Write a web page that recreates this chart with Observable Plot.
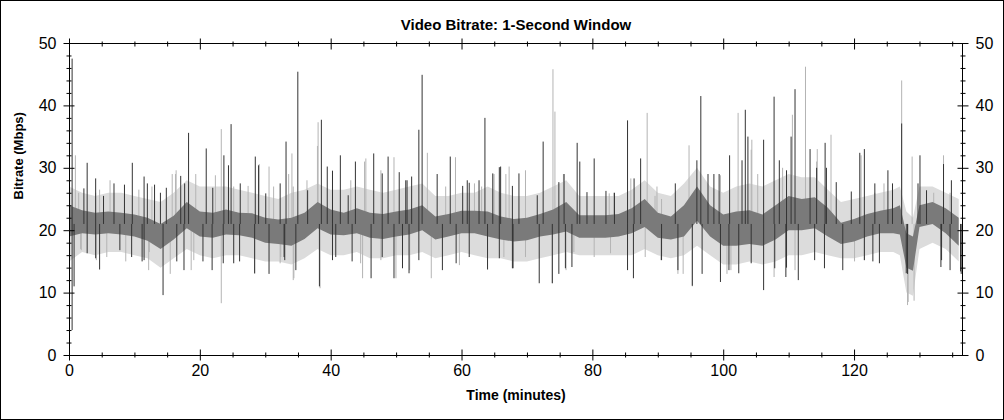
<!DOCTYPE html>
<html><head><meta charset="utf-8">
<script src="https://cdn.jsdelivr.net/npm/d3@7"></script>
<script src="https://cdn.jsdelivr.net/npm/@observablehq/plot@0.6"></script>
<style>
html,body{margin:0;padding:0;background:#fff;}
#wrap{position:relative;width:1004px;height:420px;overflow:hidden;background:#fff;}
#wrap svg{position:absolute;left:0;top:0;}
#wrap::after{content:"";position:absolute;left:0;top:0;right:0;bottom:0;border:1px solid #000;pointer-events:none;}
</style></head><body><div id="wrap"></div>
<script>
// Time grid (minutes) for the dense band of the trace
const bandT = [0,2,4,6,8,10,12,14,16,18,20,22,24,26,28,30,32,34,36,38,40,42,44,46,48,50,52,54,56,58,60,62,64,66,68,70,72,74,76,78,80,82,84,86,88,90,92,94,96,98,100,102,104,106,108,110,112,114,116,118,120,122,124,126,127,128,129,130,132,134,136];
// Dark core of the trace (Mbps): low and high edge
const coreLo = [19,19.5,19.3,19.5,19.3,19,18.3,17,18.5,20.3, 19,18.8,19.3,19.2,18.8,18,17.8,17.5,18.6,20.3, 19.3,19.2,19.5,18.8,18.6,19,19.3,20,18.5,19, 19.5,19.5,19,18.5,18.2,18.4,19,19.3,19.8,18.8, 18.8,18.8,19,19.5,20.5,18.8,18.5,19,21.5,19, 17.5,17.5,17.8,17.5,18.5,20,20,20.3,19,17.8, 18.2,19,19.5,19.5, 19.3,14,13.5,20.5,21,19.5,17.5];
const coreHi = [24,23.2,22.8,23,22.8,22.5,22,21,22.3,24.5, 23,22.8,23.3,22.8,22.7,22,21.7,22,22.8,24.5, 23.3,22.8,23.5,22.8,22.6,23,23.3,24,22.2,22.6, 23.1,23.1,23,22.2,21.8,22,22.6,23.3,24.5,22.4, 22.4,22.4,22.6,23.5,25,22.8,22.2,24,27,24, 22.5,23,23.2,22.5,24,25.5,25,25.3,23.6,21.2, 21.8,22.6,23.1,23.5, 24,19.5,19,24,24.5,23.5,22];
// Light outer fuzz of the trace (Mbps): low and high edge
const fuzzLo = [15,16.5,16,16.5,16.5,16,15.5,14,15.5,17, 16,15.5,16,16,15.5,15,15,14.5,15.5,17, 16,16,16.5,15.5,15.5,16,16,16.5,15.5,16, 16.5,16,15.5,15.5,15,15,15.5,16,16.5,16, 16,16,16,16,17,16,15.5,16,17.5,16, 14.5,14.5,15,14.5,15,16,16,16.5,16,15.5, 15.5,16,16.5,16.5, 16,10,9.5,17,18,17,15];
const fuzzHi = [27,26,25.5,26,26,25.5,25,24.5,26,28, 27,27,27,26.5,26,25.5,25,26,26.5,27.5, 26.5,26.5,27,26.5,26,26.5,27,27.5,25.5,25.5, 26,26,27,26,25.5,25.5,26,27,28,25.5, 25.5,25.5,25.5,26.5,28,26,25.5,27.5,30,27, 26,27,27.5,27,28,29,28.5,28.5,26.5,24.5, 25,25.5,26,26.5, 27,23,22,27,27,26,25];
// Dark peaks [minute, Mbps]
const darkSpikes = [[0.4,47.5],[2.2,26.7],[2.7,30.8],[5.2,25.5],[6.8,27.5],[9.6,30.8],[11.9,27.5],[13.9,26],[17.0,28.7],[17.6,27.5],[18.2,35.6],[20.9,33.1],[23.6,32],[24.7,37],[26.1,27.5],[28.4,31.8],[30.0,25.9],[33.1,34.2],[34.9,45.4],[38.5,37.7],[39.4,30.2],[41.4,32],[43.7,31],[46.5,32.3],[48.7,31.8],[51.6,28],[53.4,36.1],[53.9,44.9],[56.2,29],[58.2,31.8],[60.8,28],[63.5,38],[65.9,30.2],[72.4,34.2],[75.6,29],[77.6,34],[78.0,31],[80.2,31.5],[83.3,26],[85.3,37.6],[87.3,31.5],[92.6,27.5],[96.5,41.5],[98.5,29],[100.9,32],[103.3,39.3],[106.1,34.5],[107.7,41.4],[110.9,42.6],[113.2,33],[115.5,34],[119.5,26.2],[121.5,33],[123.1,27.5],[125.8,27.5],[127.2,37.1],[130.0,32],[133.6,30.6],
  [4.0,28.3],[8.4,27.3],[11.4,28.6],[13.0,27.3],[14.8,26.8],[21.9,26.8],[24.3,30.4],[28.9,30.4],[32.2,27.5],[36.4,26.4],[40.2,29.5],[42.6,25.6],[47.8,29.1],[50.4,29.3],[51.4,28],[52.3,28.6],[60.1,27.1],[61.1,27.6],[62.6,28],[64.7,29.1],[65.7,30.1],[67.7,27.1],[68.7,29.1],[71.5,25.6],[74.8,27.7],[79.1,26.1],[82.0,26.3],[86.3,28.3],[95.9,31.2],[97.6,29],[99.3,29],[102.8,31.2],[103.7,35],[108.5,31.2],[109.6,29.6],[110.3,35],[114.2,30],[115.7,30],[117.2,27.7],[120.8,32.4],[125.1,29.6],[129.7,27.5],[131.0,26.4],[134.8,28],
  [0.4,4],[0.7,11],[4.6,13.7],[11.1,15],[14.3,9.6],[17.5,13.6],[21.8,13.6],[25.1,14.7],[30.5,13],[32.8,15.7],[40.2,15.2],[43.2,15],[46.1,12.3],[51.9,13.1],[53.4,15.2],[63.9,13.7],[67.8,13.9],[71.8,11.5],[74.8,13],[76.8,14.1],[85.3,13.6],[86.2,12.3],[96.7,13],[99.5,11.7],[106.1,10.4],[109.5,12.5],[118.2,13.6],[122.8,15],[128.1,13],[133.2,14.1],[136.2,13.4],
  [2.7,16.3],[4.0,15.5],[7.7,16.8],[9.5,15.7],[11.4,15.2],[16.4,15],[20.4,15],[23.5,14.7],[26.0,15],[28.3,13.1],[32.9,15.2],[34.6,13.6],[38.2,11],[40.7,15.7],[47.8,15.7],[49.6,12.3],[50.9,13.9],[57.0,13.6],[59.1,14.7],[61.1,15.7],[65.7,15.5],[67.7,13.9],[73.8,11.5],[75.8,13.9],[90.5,15.2],[93.0,13.6],[95.2,11.1],[100.8,13.6],[102.3,13.1],[104.2,14.7],[107.8,13.9],[109.6,14],[111.4,12],[113.9,15.2],[115.4,13.9],[121.5,15.2],[123.8,14.7],[127.9,13.1],[133.3,15.2],[134.6,13.6],[136.3,13]];
// Light peaks [minute, Mbps]
const lightSpikes = [[0.9,32],[1.4,26],[4.0,26],[6.2,28],[10.6,26.5],[12.6,27],[15.7,29],[16.2,29],[19.3,29],[22.3,28.8],[23.2,36.2],[25.1,27],[29.0,30.6],[31.2,27],[33.5,29],[34.0,32.3],[36.3,28],[38.0,37.3],[40.2,29.6],[43.0,28],[45.3,31.5],[47.6,29.6],[49.6,31.7],[54.7,32.4],[59.0,31.7],[61.9,27.5],[64.9,29],[66.7,29],[67.2,30.2],[69.7,29.6],[73.9,45.8],[74.2,39],[82.5,25.9],[85.8,28.3],[88.3,38.8],[89.8,27],[94.7,33.6],[99.5,28.8],[102.2,38.8],[104.3,34.5],[109.0,30],[110.5,38.5],[112.5,46.2],[114.3,33],[116.4,35.3],[121.0,32],[124.5,27.5],[127.2,44],[128.8,31.8],[132.1,26],[134.6,26],
  [4.6,26.5],[16.3,29.6],[27.3,27.1],[30.5,30.2],[34.2,27],[37.9,33.5],[45.1,31],[57.5,27],[63.0,27],[75.5,29],[83.2,26],[89.5,25.5],[90.5,25],[104.2,32.9],[105.2,29],[114.2,31],[123.1,26],[133.6,32],
  [1.7,17],[4.1,15.2],[8.6,15],[12.1,13.6],[15.4,13],[18.6,13.6],[23.2,8.3],[28.3,13],[32.3,15.7],[34.3,12.3],[38.3,10.7],[44.5,14.7],[47.6,15.2],[49.9,12.3],[55.3,12.3],[59.6,14.4],[66.4,15.7],[73.8,11.5],[75.9,13.6],[82.7,16.3],[90.4,15.2],[93.0,13],[95.2,11],[100.5,13],[101.1,13.6],[107.7,12.5],[110.9,13.6],[120.0,15],[128.1,8],[129.1,8.7],
  [1.8,16.8],[5.7,15.7],[12.2,16.5],[19.0,15.2],[32.2,14.7],[34.2,12],[44.8,12.3],[52.0,13.6],[69.7,15.7],[77.1,16.5],[80.2,15.7],[88.0,15.7],[93.8,13],[121.5,15.2],[128.2,8.5]];
// Ticks
const yMajor = [0,10,20,30,40,50];
const yMinor = [2,4,6,8,12,14,16,18,22,24,26,28,32,34,36,38,42,44,46,48];
const xMajor = [0,20,40,60,80,100,120];
const xMinor = [5,10,15,25,30,35,45,50,55,65,70,75,85,90,95,105,110,115,125,130,135];
const titleText = "Video Bitrate: 1-Second Window";
const xLabel = "Time (minutes)";
const yLabel = "Bitrate (Mbps)";

const band = bandT.map((t, i) => ({t, lo: coreLo[i], hi: coreHi[i], flo: fuzzLo[i], fhi: fuzzHi[i]}));
const blank = () => "";

const chart = Plot.plot({
  width: 1004, height: 420,
  marginLeft: 69, marginRight: 42, marginTop: 43, marginBottom: 65,
  x: {domain: [0, 136.5], label: null},
  y: {domain: [0, 50], label: null},
  style: {fontFamily: "'Liberation Sans', Arial, sans-serif", fontSize: "16px", color: "#000", background: "transparent", overflow: "visible"},
  marks: [
    Plot.areaY(band, {x: "t", y1: "flo", y2: "fhi", fill: "#dcdcdc"}),
    Plot.ruleX(lightSpikes, {x: d => d[0], y1: 21, y2: d => d[1], stroke: "#b4b4b4", strokeWidth: 1}),
    Plot.areaY(band, {x: "t", y1: "lo", y2: "hi", fill: "#7a7a7a"}),
    Plot.ruleX(darkSpikes, {x: d => d[0], y1: 21, y2: d => d[1], stroke: "#333", strokeWidth: 1}),
    Plot.frame({stroke: "#000"}),
    Plot.axisY({anchor: "left", ticks: yMajor, tickSize: 11, dx: 5.5, tickPadding: 7.5, label: null}),
    Plot.axisY({anchor: "left", ticks: yMinor, tickSize: 5, dx: 2.5, tickFormat: blank, label: null}),
    Plot.axisY({anchor: "right", ticks: yMajor, tickSize: 11, dx: -5.5, tickPadding: 7.5, label: null}),
    Plot.axisY({anchor: "right", ticks: yMinor, tickSize: 5, dx: -2.5, tickFormat: blank, label: null}),
    Plot.axisX({anchor: "bottom", ticks: xMajor, tickSize: 11, dy: -5.5, tickPadding: 4, label: null}),
    Plot.axisX({anchor: "bottom", ticks: xMinor, tickSize: 5, dy: -2.5, tickFormat: blank, label: null}),
    Plot.axisX({anchor: "top", ticks: xMajor, tickSize: 11, dy: 5.5, tickFormat: blank, label: null}),
    Plot.axisX({anchor: "top", ticks: xMinor, tickSize: 5, dy: 2.5, tickFormat: blank, label: null}),
    Plot.text([titleText], {frameAnchor: "top", dy: -24, fontWeight: "bold", fontSize: 15}),
    Plot.text([xLabel], {frameAnchor: "bottom", dy: 44, fontWeight: "bold", fontSize: 14}),
    Plot.text([yLabel], {frameAnchor: "left", dx: -51, rotate: -90, fontWeight: "bold", fontSize: 13})
  ]
});
document.getElementById("wrap").appendChild(chart);
</script>
</body></html>
